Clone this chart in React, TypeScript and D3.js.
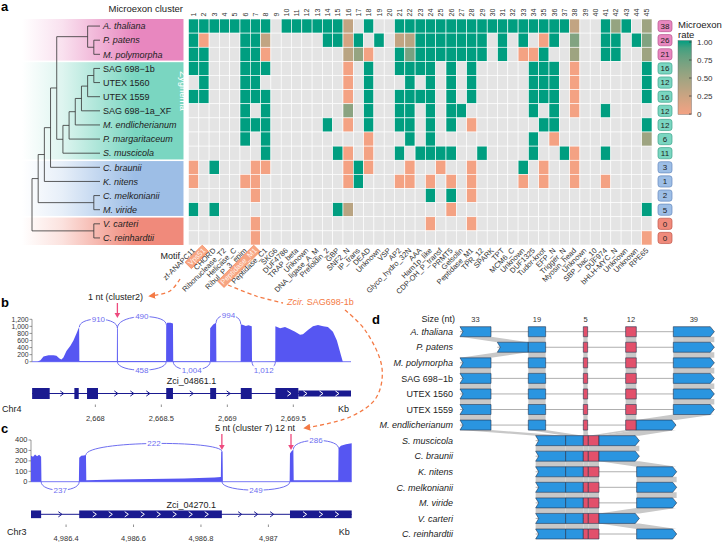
import React from "react";
import * as d3 from "d3";

const FONT = "'Liberation Sans', Arial, Helvetica, sans-serif";
const N = null;

// ---------------- Panel a data ----------------
const species = ["A. thaliana", "P. patens", "M. polymorpha", "SAG 698−1b", "UTEX 1560", "UTEX 1559", "SAG 698−1a_XF", "M. endlicherianum", "P. margaritaceum", "S. muscicola", "C. braunii", "K. nitens", "C. melkonianii", "M. viride", "V. carteri", "C. reinhardtii"];
const romanNames = ["SAG 698−1b", "UTEX 1560", "UTEX 1559", "SAG 698−1a_XF"];
const speciesGroup = [0, 0, 0, 1, 1, 1, 1, 1, 1, 1, 2, 2, 2, 2, 3, 3];
const groupFill = ["#E887BF", "#7AD6C1", "#9DBEE6", "#F08A7B"];
const groupStroke = ["#B8558F", "#3FA58D", "#6488BD", "#C0584B"];
const microexonCount = [38, 26, 21, 16, 12, 16, 12, 12, 6, 11, 3, 1, 2, 5, 0, 0];
const clusterIds = ["1","2","3","4","5","6","7","8","9","10","11","12","13","14","15","16","17","18","19","20","21","22","23","24","25","26","27","28","29","30","31","32","33","34","35","36","37","38","39","40","41","42","43","44","45"];
const motifs = ["zf-ANAPC11", "Vps51", "CHORD", "Ribonuclease_T2", "Helicase_C", "Ribul_P_3_epim", "Peptidase_M1", "Peptidase_C1", "SKG6", "DUF4786", "TRAP_beta", "Unknown", "DNA_ligase_A_M", "Prefoldin_2", "GBP", "SNF2_N", "IP_trans", "DEAD", "Unknown", "VSP", "AP2", "Glyco_hydro_32N", "AAA", "Ham1p_like", "CDP-OH_P_transf", "PRMT5", "Gelsolin", "Peptidase_M1", "TPR_12", "SPARK", "TPT", "MCM6_C", "Unknown", "DUF1325", "Tudor-knot", "EFP_N", "Trigger_N", "Myosin_head", "Unknown", "SBP_bac_10", "DUF974", "bHLH-MYC_N", "Unknown", "Unknown", "RPE65"];
const highlightedClusters = ["2", "7"];

const microexonRate = [
  [1,1,1,1,1, 1,1,1,N,1, 1,1,1,1,1, .3,N,1,N,N, 1,1,1,1,1, 1,1,1,1,1, 1,1,1,1,1, 1,1,.3,N,N, 1,.55,1,N,.5],
  [1,0,N,N,N, 1,1,.3,N,N, N,N,N,1,1, .2,1,N,1,N, .3,.35,1,1,1, 1,1,1,1,N, 1,N,1,N,0, 1,N,.65,N,N, 1,1,N,1,.65],
  [1,1,N,N,N, 1,1,0,N,N, N,N,N,N,N, .35,.55,0,N,N, 1,.7,1,1,1, 1,1,1,1,N, 1,N,0,0,1, N,N,.5,N,N, 1,1,N,N,.5],
  [1,1,N,N,N, 1,1,1,N,N, N,N,N,N,N, 0,N,1,N,N, 1,1,1,1,N, 1,N,1,N,N, N,N,N,1,1, 1,N,0,N,N, N,N,N,N,1],
  [N,1,N,N,N, 1,1,N,N,N, N,N,N,N,N, 0,N,1,N,N, N,1,N,1,N, 1,N,1,N,N, N,N,N,1,1, 1,N,0,N,N, N,N,N,N,1],
  [1,1,N,N,N, 1,1,1,N,N, N,N,N,N,N, 0,N,1,N,N, 1,1,1,1,N, 1,N,1,N,N, N,N,N,1,1, 1,N,0,N,N, N,N,N,N,1],
  [N,N,N,N,N, 1,N,1,N,N, N,N,N,N,N, .6,N,1,N,N, 1,1,N,1,N, 1,1,N,N,N, N,N,N,1,N, 1,N,0,N,N, 1,N,N,N,N],
  [N,N,N,N,N, 1,1,1,N,N, N,N,N,1,N, 0,N,1,N,N, 1,1,N,1,N, 1,N,0,N,N, N,N,N,N,1, 1,N,N,N,N, N,N,N,N,1],
  [N,N,N,N,N, 1,N,1,N,N, N,N,N,N,N, N,N,0,N,N, N,1,N,1,N, N,N,N,N,N, N,N,N,1,N, 0,N,N,N,N, N,N,N,N,.5],
  [N,N,N,N,N, N,N,1,N,N, N,N,N,N,1, 0,N,0,N,N, 1,N,1,1,1, 1,N,N,1,N, N,N,N,1,N, N,1,0,N,N, 1,N,N,N,N],
  [0,N,1,N,N, N,0,0,N,N, N,N,N,N,N, 0,1,0,N,N, N,0,N,N,0, N,N,0,N,N, N,N,1,N,0, N,N,0,N,N, N,N,N,N,N],
  [0,N,N,N,N, 0,0,N,N,N, N,N,N,N,N, 0,1,N,N,N, 0,0,N,0,N, 0,N,0,N,N, N,N,0,N,0, N,N,0,N,N, 0,N,N,N,N],
  [N,N,N,N,N, N,0,N,N,N, N,N,N,N,N, N,N,N,N,N, N,N,N,1,N, 1,N,0,N,N, N,N,N,N,N, N,N,N,N,N, N,N,N,N,N],
  [1,N,1,N,N, N,N,N,N,N, N,N,N,N,1, .35,N,N,N,N, N,N,N,N,N, 0,N,N,N,N, N,N,N,N,N, N,N,N,N,N, N,N,N,N,1],
  [N,N,N,N,N, N,0,N,N,N, N,N,N,N,N, N,N,N,N,N, N,N,N,0,N, N,N,0,N,N, N,N,N,N,N, N,N,N,N,N, N,N,N,N,N],
  [N,N,N,N,N, N,0,N,N,N, N,N,N,N,N, N,N,N,N,N, N,N,N,N,N, N,N,N,N,N, N,N,N,N,N, N,N,N,N,N, N,N,N,N,0],
];
const legendTicks = [0, 0.25, 0.5, 0.75, 1];
const legendLabels = ["0", "0.25", "0.50", "0.75", "1.00"];

const speciesTree = { name: "root", children: [
  { name: "chlamy", children: [{ name: "V. carteri" }, { name: "C. reinhardtii" }] },
  { name: "n1", children: [
    { name: "n2", children: [{ name: "C. melkonianii" }, { name: "M. viride" }] },
    { name: "n3", children: [
      { name: "K. nitens" },
      { name: "n4", children: [
        { name: "C. braunii" },
        { name: "n5", children: [
          { name: "n6", children: [{ name: "A. thaliana" }, { name: "n7", children: [{ name: "P. patens" }, { name: "M. polymorpha" }] }] },
          { name: "n8", children: [
            { name: "n9", children: [
              { name: "n10", children: [
                { name: "n11", children: [
                  { name: "n12", children: [
                    { name: "n13", children: [{ name: "SAG 698−1b" }, { name: "UTEX 1560" }] },
                    { name: "UTEX 1559" }] },
                  { name: "SAG 698−1a_XF" }] },
                { name: "M. endlicherianum" }] },
              { name: "P. margaritaceum" }] },
            { name: "S. muscicola" }] },
        ] },
      ] },
    ] },
  ] },
] };

// ---------------- Panel b data ----------------
const covB = [
  [2667.560, 0], [2667.584, 40], [2667.607, 150], [2667.645, 180], [2667.683, 185], [2667.705, 170], [2667.728, 90], [2667.743, 60], [2667.758, 120], [2667.781, 300], [2667.811, 450], [2667.834, 600], [2667.857, 800], [2667.877, 980], [2667.879, 20],
  [2668.163, 20], [2668.164, 950], [2668.170, 950], [2668.171, 20],
  [2668.536, 20], [2668.537, 1050], [2668.545, 1100], [2668.570, 1100], [2668.588, 1080], [2668.590, 10],
  [2668.869, 10], [2668.870, 950], [2668.893, 1050], [2668.915, 1100], [2668.917, 0],
  [2669.101, 0], [2669.102, 1060], [2669.120, 1040], [2669.140, 1010], [2669.160, 1030], [2669.185, 1000], [2669.187, 0],
  [2669.363, 5], [2669.364, 1000], [2669.400, 950], [2669.437, 980], [2669.475, 920], [2669.513, 850], [2669.551, 760], [2669.573, 780], [2669.611, 900], [2669.649, 1000], [2669.687, 1040], [2669.725, 1000], [2669.762, 980], [2669.800, 850], [2669.830, 600], [2669.860, 200], [2669.875, 0],
];
const junctionsB = [
  [2667.879, 2668.167, 910, "up", 980, 950],
  [2668.167, 2668.537, 490, "up", 950, 1050],
  [2668.915, 2669.102, 994, "up", 1100, 1060],
  [2668.167, 2668.537, 458, "down", 0, 0],
  [2668.590, 2668.870, 1004, "down", 0, 0],
  [2669.187, 2669.364, 1012, "down", 0, 0],
];
const exonsB = [
  [2667.521, 2667.654, "cds"], [2667.841, 2667.874, "cds"], [2667.937, 2668.020, "cds"], [2668.537, 2668.588, "cds"],
  [2668.870, 2668.915, "cds"], [2669.102, 2669.185, "cds"], [2669.364, 2669.538, "cds"], [2669.538, 2669.937, "utr"],
];
const ticksB = [2668, 2668.5, 2669, 2669.5];
const yTicksB = [0, 200, 400, 600, 800, 1000, 1200];

// ---------------- Panel c data ----------------
const covC = [
  [4986.296, 250], [4986.302, 240], [4986.308, 262], [4986.314, 245], [4986.320, 258], [4986.326, 240], [4986.327, 0],
  [4986.438, 0], [4986.439, 230], [4986.445, 248], [4986.452, 252], [4986.459, 256], [4986.460, 15],
  [4986.550, 20], [4986.650, 25], [4986.750, 30], [4986.840, 40], [4986.859, 45], [4986.860, 290], [4986.864, 290], [4986.865, 0],
  [4987.063, 0], [4987.064, 270], [4987.068, 290], [4987.074, 310], [4987.075, 15],
  [4987.207, 15], [4987.208, 320], [4987.215, 345], [4987.230, 360], [4987.247, 370],
];
const junctionsC = [
  [4986.459, 4986.862, 222, "up", 256, 290],
  [4987.074, 4987.208, 286, "up", 310, 320],
  [4986.326, 4986.439, 237, "down", 0, 0],
  [4986.862, 4987.064, 249, "down", 0, 0],
];
const exonsC = [[4986.296, 4986.326, "cds"], [4986.439, 4986.862, "cds"], [4987.064, 4987.247, "cds"]];
const ticksC = [4986.4, 4986.6, 4986.8, 4987];
const yTicksC = [0, 100, 200, 300, 400];

// ---------------- Panel d data ----------------
const dSpecies = ["A. thaliana", "P. patens", "M. polymorpha", "SAG 698−1b", "UTEX 1560", "UTEX 1559", "M. endlicherianum", "S. muscicola", "C. braunii", "K. nitens", "C. melkonianii", "M. viride", "V. carteri", "C. reinhardtii"];
const exonSizes = [33, 19, 5, 12, 39];
const exonIsMicro = [false, false, true, true, false];
const layoutStd = [[300, 393], [505, 557], [670, 683], [797, 829], [940, 1063]];
const layoutPp = [[412, 505], [505, 557], [670, 683], [797, 829], [940, 1063]];
const layoutMe = [[300, 393], [505, 557], [670, 683], [797, 829], [829, 948]];
const layoutFusedA = [[527, 617], [617, 670], [670, 685], [685, 717], [717, 838]];
const layoutFusedB = [[527, 617], [617, 670], [670, 685], [685, 717], [830, 950]];
const dLayouts = [layoutStd, layoutPp, layoutStd, layoutStd, layoutStd, layoutStd, layoutMe, layoutFusedA, layoutFusedA, layoutFusedB, layoutFusedB, layoutFusedB, layoutFusedA, layoutFusedB];

// ---------------- helpers ----------------
let _ctx: any = null;
function textW(t: string, size: number) {
  if (!_ctx && typeof document !== "undefined") _ctx = document.createElement("canvas").getContext("2d");
  if (!_ctx) return t.length * size * 0.5;
  _ctx.font = `${size}px 'Liberation Sans', Arial`;
  return _ctx.measureText(t).width;
}
function chevronPositions(x0: number, x1: number, spacing = 16) {
  const len = x1 - x0;
  const n = Math.floor((len - 8) / spacing);
  if (n < 1) return [];
  const start = x0 + (len - (n - 1) * spacing) / 2;
  return d3.range(n).map((i) => start + i * spacing);
}

const COV = "#5656F2";
const ARC = "#6E6EF0";
const NAVY = "#1A1A90";
const PINK = "#EE4A7E";
const ORANGE = "#F47A45";

function Sashimi(p: any) {
  const x = d3.scaleLinear().domain(p.domain).range([p.x0, p.x1]);
  const y = d3.scaleLinear().domain([0, p.yMax]).range([p.base, p.top]);
  const area = d3.area<any>().x((d) => x(d[0])).y0(p.base).y1((d) => y(d[1]));
  const blocks: number[][] = [];
  p.exons.forEach((e: any) => {
    const last = blocks[blocks.length - 1];
    if (last && Math.abs(last[1] - e[0]) < 1e-6) last[1] = e[1];
    else blocks.push([e[0], e[1]]);
  });
  const gy = p.geneY;
  const chev = (cx: number, key: string, color: string) => (
    <path key={key} d={`M${cx - 1.8},${gy - 2.6}L${cx + 1.8},${gy}L${cx - 1.8},${gy + 2.6}`} stroke={color} strokeWidth={1} fill="none" />
  );
  return (
    <g>
      <line x1={p.x0} x2={p.x0} y1={p.top} y2={p.base} stroke="#555" strokeWidth={0.6} />
      {p.yTicks.map((t: number) => (
        <g key={t}>
          <line x1={p.x0 - 2.5} x2={p.x0} y1={y(t)} y2={y(t)} stroke="#555" strokeWidth={0.6} />
          <text x={p.x0 - 3.5} y={y(t) + 2.4} fontSize={p.yFont} textAnchor="end" fill="#333">{d3.format(",")(t)}</text>
        </g>
      ))}
      <path d={area(p.cov) || ""} fill={COV} />
      <line x1={p.x0} x2={p.x1} y1={p.base} y2={p.base} stroke={COV} strokeWidth={0.8} />
      {p.junctions.map((j: any, i: number) => {
        const x1 = x(j[0]), x2 = x(j[1]);
        let y1, y2, apex;
        if (j[3] === "up") { y1 = y(j[4]); y2 = y(j[5]); apex = Math.min(y1, y2) - 8; }
        else { y1 = p.base; y2 = p.base; apex = p.base + 8.5; }
        const c = (8 * apex - y1 - y2) / 6;
        const label = d3.format(",")(j[2]);
        const w = textW(label, 8);
        const mx = (x1 + x2) / 2;
        return (
          <g key={i}>
            <path d={`M${x1},${y1}C${x1},${c} ${x2},${c} ${x2},${y2}`} fill="none" stroke={ARC} strokeWidth={1} />
            <rect x={mx - w / 2 - 1} y={apex - 4} width={w + 2} height={8} fill="white" />
            <text x={mx} y={apex + 2.8} fontSize={8} textAnchor="middle" fill={ARC}>{label}</text>
          </g>
        );
      })}
      <text x={(p.x0 + p.x1) / 2} y={p.nameY} fontSize={9} textAnchor="middle" fill="#222">{p.geneName}</text>
      <line x1={x(p.exons[0][0])} x2={x(p.exons[p.exons.length - 1][1])} y1={gy} y2={gy} stroke={NAVY} strokeWidth={1} />
      {p.exons.map((e: any, i: number) => {
        const h = e[2] === "utr" ? p.utrH : p.geneH;
        return <rect key={i} x={x(e[0])} y={gy - h / 2} width={x(e[1]) - x(e[0])} height={h} fill={NAVY} />;
      })}
      {blocks.slice(0, -1).map((b, i) => chevronPositions(x(b[1]), x(blocks[i + 1][0])).map((cx, k) => chev(cx, `i${i}-${k}`, NAVY)))}
      {blocks.map((b, i) => chevronPositions(x(b[0]), x(b[1])).map((cx, k) => chev(cx, `e${i}-${k}`, "white")))}
      <text x={p.chrX} y={p.chrY} fontSize={9} fill="#222">{p.chr}</text>
      <text x={p.x1 - 13} y={p.chrY} fontSize={9} fill="#222">Kb</text>
      {p.ticks.map((t: number) => (
        <g key={t}>
          <line x1={x(t)} x2={x(t)} y1={p.tickY} y2={p.tickY + 2.5} stroke="#444" strokeWidth={0.6} />
          <text x={x(t)} y={p.labelY} fontSize={7.5} textAnchor="middle" fill="#333">{d3.format(",")(t)}</text>
        </g>
      ))}
    </g>
  );
}

function PinkArrow({ x, y0, y1 }: any) {
  return (
    <g>
      <line x1={x} x2={x} y1={y0} y2={y1 - 4} stroke={PINK} strokeWidth={1.3} />
      <path d={`M${x - 2.8},${y1 - 5}L${x + 2.8},${y1 - 5}L${x},${y1}Z`} fill={PINK} />
    </g>
  );
}

export default function App() {
  const hx = d3.scaleBand<string>().domain(clusterIds).range([188.5, 652]);
  const hy = d3.scaleBand<string>().domain(species).range([19, 245]);
  const bw = hx.bandwidth(), bh = hy.bandwidth();
  const color = d3.scaleLinear<string>().domain([0, 1]).range(["#F4A283", "#009E80"]).interpolate(d3.interpolateLab);

  const root: any = d3.hierarchy(speciesTree);
  const tx = d3.scaleLinear().domain([root.height, 0]).range([32, 100]);
  root.eachAfter((n: any) => {
    n.yy = n.children ? d3.mean(n.children, (c: any) => c.yy) : (hy(n.data.name) as number) + bh / 2;
  });
  const treeLines: any[] = [];
  root.each((n: any) => {
    if (!n.children) return;
    const xN = tx(n.height);
    const ys = n.children.map((c: any) => c.yy);
    treeLines.push([xN, d3.min(ys), xN, d3.max(ys)]);
    n.children.forEach((c: any) => treeLines.push([xN, c.yy, tx(c.height), c.yy]));
  });

  const groups = [0, 1, 2, 3].map((g) => {
    const idx = speciesGroup.map((v, i) => (v === g ? i : -1)).filter((i) => i >= 0);
    const y0 = (hy(species[idx[0]]) as number) + (g > 0 ? 0.8 : 0);
    const y1 = (hy(species[idx[idx.length - 1]]) as number) + bh - (g < 3 ? 0.8 : 0);
    return { g, y0, y1 };
  });

  const legendY = d3.scaleLinear().domain([0, 1]).range([114, 42]);

  const xD = d3.scaleLinear().domain([300, 1063]).range([460, 714.3]);
  const yD = d3.scalePoint<string>().domain(dSpecies).range([331.7, 534]);
  const HH = 5;

  const lineCR = d3.line().curve(d3.curveCatmullRom.alpha(0.5));
  const xBann = d3.scaleLinear().domain([2667.52, 2669.937]).range([32, 351]);
  const xCann = d3.scaleLinear().domain([4986.296, 4987.247]).range([31, 351.7]);

  return (
    <svg width={722} height={543} style={{ position: "absolute", left: 0, top: 0, fontFamily: FONT, background: "white" }}>
      <defs>
        {groupFill.map((c, i) => (
          <linearGradient key={i} id={`band${i}`} x1="0" x2="1" y1="0" y2="0">
            <stop offset="0" stopColor={c} stopOpacity={0} />
            <stop offset="0.25" stopColor={c} stopOpacity={0.25} />
            <stop offset="0.7" stopColor={c} stopOpacity={1} />
            <stop offset="1" stopColor={c} stopOpacity={1} />
          </linearGradient>
        ))}
        <linearGradient id="legendGrad" x1="0" x2="0" y1="1" y2="0">
          {d3.range(0, 1.01, 0.1).map((t) => (
            <stop key={t} offset={t} stopColor={color(t)} />
          ))}
        </linearGradient>
        <marker id="arrO" viewBox="0 0 8 8" refX="6" refY="4" markerWidth="7" markerHeight="7" markerUnits="userSpaceOnUse" orient="auto">
          <path d="M0,0L8,4L0,8Z" fill={ORANGE} />
        </marker>
      </defs>

      {/* ===== panel a ===== */}
      <text x={1} y={11} fontSize={13} fontWeight="bold" fill="#000">a</text>
      <text x={183} y={12} fontSize={9.5} textAnchor="end" fill="#222">Microexon cluster</text>

      {groups.map(({ g, y0, y1 }) => (
        <rect key={g} x={22} y={y0} width={161.5} height={y1 - y0} fill={`url(#band${g})`} />
      ))}
      <text transform={`translate(179.5, 91) rotate(90)`} fontSize={9.5} textAnchor="middle" fill="white">Zygnema</text>

      {treeLines.map((l, i) => (
        <line key={i} x1={l[0]} y1={l[1]} x2={l[2]} y2={l[3]} stroke="#333" strokeWidth={0.8} />
      ))}
      {species.map((s) => (
        <text key={s} x={103} y={(hy(s) as number) + bh / 2 + 3.2} fontSize={9} fill="#222" fontStyle={romanNames.includes(s) ? "normal" : "italic"}>{s}</text>
      ))}

      {species.map((s, r) =>
        clusterIds.map((c, k) => {
          const v = microexonRate[r][k];
          return (
            <rect key={`${r}-${k}`} x={hx(c)} y={hy(s)} width={bw} height={bh}
              fill={v === null ? "#E4E4E4" : color(v)} stroke="white" strokeWidth={0.6} />
          );
        })
      )}
      {clusterIds.map((c) => (
        <text key={c} transform={`translate(${(hx(c) as number) + bw / 2 + 2.5}, 16.5) rotate(-90)`} fontSize={7} fill="#333">{c}</text>
      ))}

      <text x={180} y={259} fontSize={9} textAnchor="end" fill="#222">Motif</text>
      {clusterIds.map((c, k) => {
        const cx = (hx(c) as number) + bw / 2;
        const hl = highlightedClusters.includes(c);
        const w = textW(motifs[k], 7.5);
        return (
          <g key={c} transform={`translate(${cx + 2}, 251) rotate(-45)`}>
            {hl && <rect x={-w - 1.5} y={-6.8} width={w + 3} height={9} fill="#F7A582" stroke={ORANGE} strokeWidth={0.6} />}
            <text x={0} y={0} fontSize={7.5} textAnchor="end" fill={hl ? "#FFF4EE" : "#333"}>{motifs[k]}</text>
          </g>
        );
      })}

      {species.map((s, r) => {
        const g = speciesGroup[r];
        const cy = (hy(s) as number) + bh / 2;
        return (
          <g key={s}>
            <rect x={658} y={cy - 5.6} width={14} height={11.2} rx={2.5} fill={groupFill[g]} stroke={groupStroke[g]} strokeWidth={0.7} />
            <text x={665} y={cy + 2.9} fontSize={8} textAnchor="middle" fill="#222">{microexonCount[r]}</text>
          </g>
        );
      })}

      <text x={678} y={27.5} fontSize={9.5} fill="#222">Microexon</text>
      <text x={678} y={38} fontSize={9.5} fill="#222">rate</text>
      <rect x={678} y={40.5} width={13.5} height={74} fill="url(#legendGrad)" stroke="#666" strokeWidth={0.4} />
      {legendTicks.map((t, i) => (
        <g key={t}>
          <line x1={689} x2={691.5} y1={legendY(t)} y2={legendY(t)} stroke="#333" strokeWidth={0.7} />
          <text x={697} y={legendY(t) + 2.8} fontSize={8} fill="#333">{legendLabels[i]}</text>
        </g>
      ))}

      {/* ===== panel b ===== */}
      <text x={1} y={307} fontSize={13} fontWeight="bold" fill="#000">b</text>
      <text x={88} y={299.5} fontSize={9} fill="#222">1 nt (cluster2)</text>
      <PinkArrow x={xBann(2668.167)} y0={303} y1={318} />
      <Sashimi domain={[2667.52, 2669.937]} x0={32} x1={351} top={319.3} base={361.7} yMax={1200} yTicks={yTicksB} yFont={6.8}
        cov={covB} junctions={junctionsB} exons={exonsB} geneName="Zci_04861.1" geneY={393.5} geneH={11} utrH={6}
        nameY={383.5} ticks={ticksB} chr="Chr4" chrX={2} chrY={411.5} tickY={404.5} labelY={420.5} />

      {/* ===== panel c ===== */}
      <text x={1} y={433} fontSize={13} fontWeight="bold" fill="#000">c</text>
      <text x={215} y={431} fontSize={9} fill="#222">5 nt (cluster 7) 12 nt</text>
      <PinkArrow x={xCann(4986.862)} y0={434} y1={450} />
      <PinkArrow x={xCann(4987.067)} y0={434} y1={450} />
      <Sashimi domain={[4986.296, 4987.247]} x0={31} x1={351.7} top={440} base={481.7} yMax={400} yTicks={yTicksC} yFont={7.5}
        cov={covC} junctions={junctionsC} exons={exonsC} geneName="Zci_04270.1" geneY={514.3} geneH={7.7} utrH={7.7}
        nameY={508} ticks={ticksC} chr="Chr3" chrX={7} chrY={535} tickY={524.5} labelY={541} />

      <path d={lineCR([[180, 279], [170, 291], [150, 296]] as any) || ""} fill="none" stroke={ORANGE} strokeWidth={1.3} strokeDasharray="4,3" markerEnd="url(#arrO)" />
      <path d={lineCR([[228, 285], [256, 296], [283, 303]] as any) || ""} fill="none" stroke={ORANGE} strokeWidth={1.3} strokeDasharray="4,3" />
      <text x={287} y={305} fontSize={9} fill={ORANGE}><tspan fontStyle="italic">Zcir.</tspan> SAG698-1b</text>
      <path d={lineCR([[345, 310], [365, 330], [382, 368], [376, 398], [350, 417], [305, 428]] as any) || ""} fill="none" stroke={ORANGE} strokeWidth={1.3} strokeDasharray="4,3" markerEnd="url(#arrO)" />

      {/* ===== panel d ===== */}
      <text x={372} y={324} fontSize={13} fontWeight="bold" fill="#000">d</text>
      <text x={455} y={322} fontSize={9} textAnchor="end" fill="#222">Size (nt)</text>
      {exonSizes.map((s, k) => (
        <text key={k} x={xD((layoutStd[k][0] + layoutStd[k][1]) / 2)} y={322} fontSize={7.5} textAnchor="middle" fill="#333">{s}</text>
      ))}
      {dLayouts.slice(0, -1).map((L, i) => {
        const yA = (yD(dSpecies[i]) as number) + HH;
        const yB = (yD(dSpecies[i + 1]) as number) - HH;
        const Lb = dLayouts[i + 1];
        return L.map((a, k) => {
          const b = Lb[k];
          return <path key={`${i}-${k}`} d={`M${xD(a[0])},${yA}L${xD(a[1])},${yA}L${xD(b[1])},${yB}L${xD(b[0])},${yB}Z`} fill="#C8C8C8" />;
        });
      })}
      {dSpecies.map((s, i) => {
        const cy = yD(s) as number;
        const L = dLayouts[i];
        return (
          <g key={s}>
            <text x={453} y={cy + 3.2} fontSize={9} textAnchor="end" fill="#222" fontStyle={romanNames.includes(s) ? "normal" : "italic"}>{s}</text>
            <line x1={xD(L[0][0])} x2={xD(L[4][1])} y1={cy} y2={cy} stroke="#9A9A9A" strokeWidth={0.8} />
            {L.map((e, k) => {
              const x0 = xD(e[0]), x1 = xD(e[1]);
              const t = cy - HH, b = cy + HH;
              let d = `M${x0},${t}L${x1},${t}L${x1},${b}L${x0},${b}Z`;
              if (k === 0) d = `M${x0},${t}L${x1},${t}L${x1},${b}L${x0},${b}L${x0 + 3},${cy}Z`;
              if (k === 4) d = `M${x0},${t}L${x1 - 4},${t}L${x1},${cy}L${x1 - 4},${b}L${x0},${b}Z`;
              return <path key={k} d={d} fill={exonIsMicro[k] ? "#E2506B" : "#2A95E0"} stroke="#24344F" strokeWidth={0.6} />;
            })}
          </g>
        );
      })}
    </svg>
  );
}
